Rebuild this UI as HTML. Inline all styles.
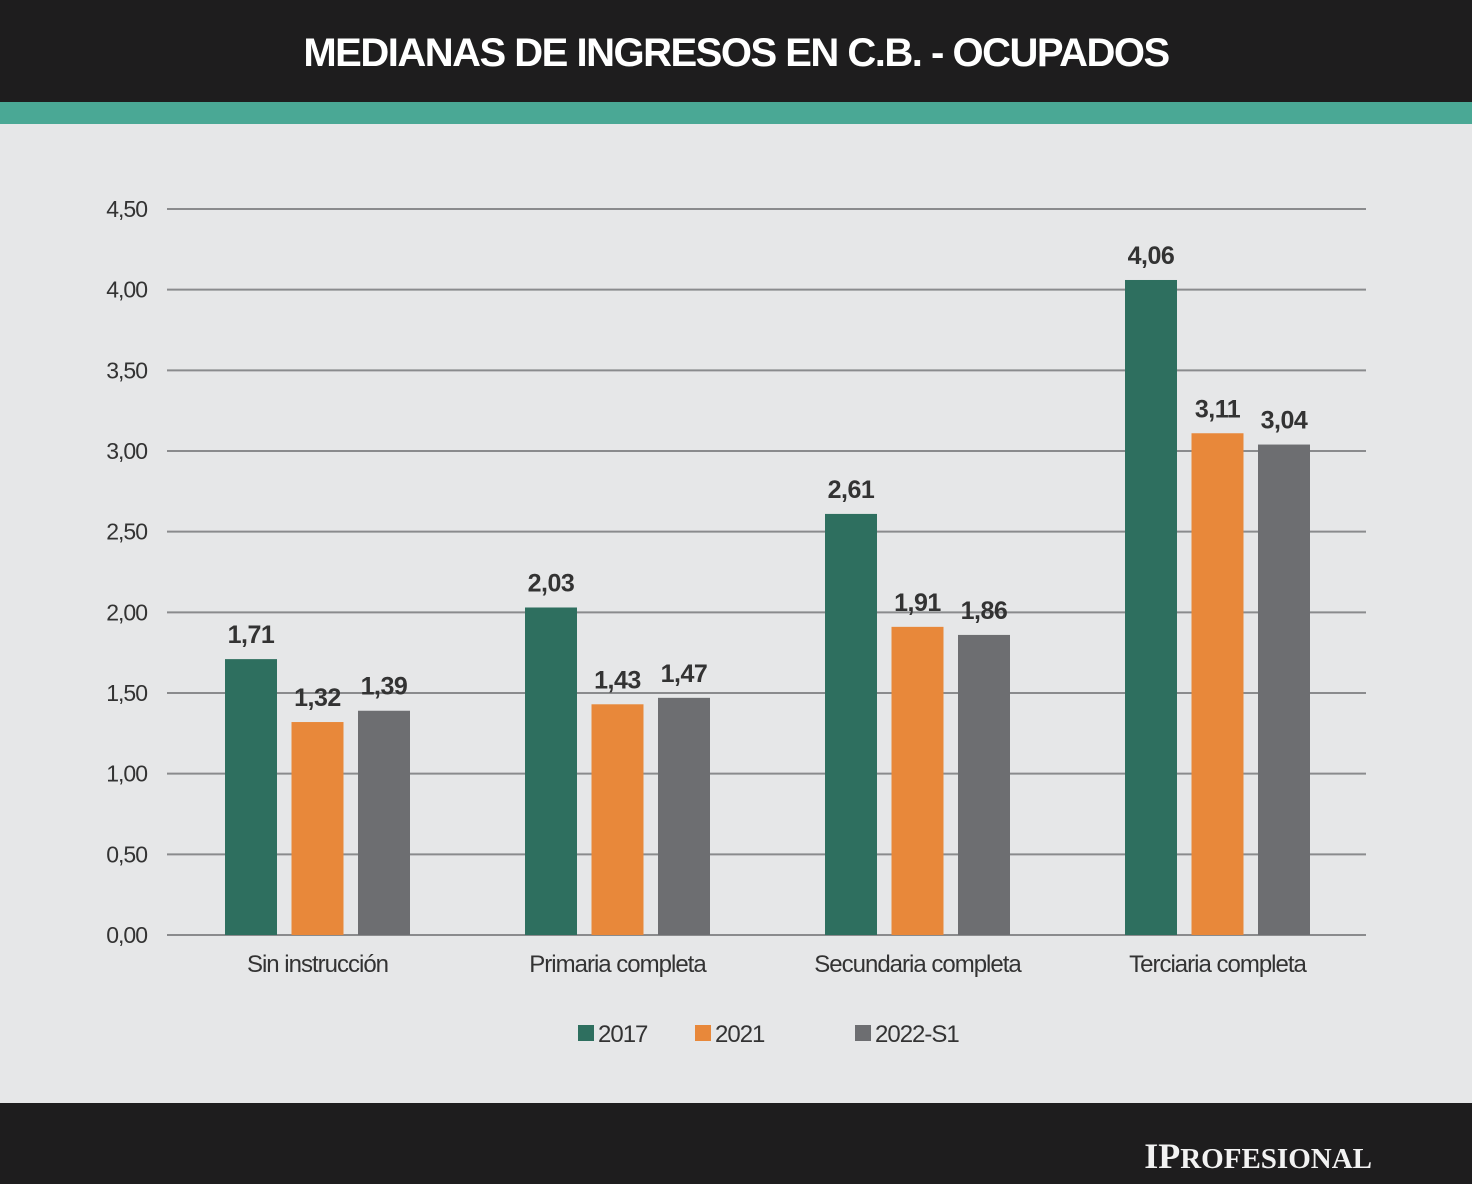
<!DOCTYPE html>
<html><head><meta charset="utf-8">
<style>
html,body{margin:0;padding:0;width:1472px;height:1184px;overflow:hidden;background:#e6e7e8;font-family:"Liberation Sans",sans-serif;}
</style></head>
<body>
<svg id="chart" width="1472" height="1184" xmlns="http://www.w3.org/2000/svg">
<rect x="0" y="0" width="1472" height="102" fill="#1e1d1e"/>
<text x="736" y="66" text-anchor="middle" fill="#ffffff" font-size="40" font-weight="bold" letter-spacing="-1.5">MEDIANAS DE INGRESOS EN C.B. - OCUPADOS</text>
<rect x="0" y="102" width="1472" height="22" fill="#4aa895"/>
<rect x="0" y="124" width="1472" height="979" fill="#e6e7e8"/>
<g id="grid"></g><g id="bars"></g><g id="labels"></g>
<g id="legend"></g>
<rect x="0" y="1103" width="1472" height="81" fill="#1e1d1e"/>
<text x="1372" y="1168" text-anchor="end" fill="#f2f2f2" font-family="Liberation Serif,serif" font-size="36" font-weight="bold">I<tspan font-size="36">P</tspan><tspan font-size="29">ROFESIONAL</tspan></text>
</svg>
<script>
const categories = ["Sin instrucción","Primaria completa","Secundaria completa","Terciaria completa"];
const seriesNames = ["2017","2021","2022-S1"];
const s2017 = [1.71,2.03,2.61,4.06];
const s2021 = [1.32,1.43,1.91,3.11];
const s2022 = [1.39,1.47,1.86,3.04];
const yTicks = [0,0.5,1,1.5,2,2.5,3,3.5,4,4.5];
const yTickLabels = ["0,00","0,50","1,00","1,50","2,00","2,50","3,00","3,50","4,00","4,50"];

const NS="http://www.w3.org/2000/svg";
const colors=["#2e6f5f","#e8883a","#6d6e71"];
const y0=935, pxPerUnit=(935-209)/4.5;
const yScale=v=>y0-v*pxPerUnit;
const groupStart=225, groupStep=300, barW=52, barStep=66.5;
const xBar=(ci,si)=>groupStart+ci*groupStep+si*barStep;
function mk(tag,attrs,parent){const e=document.createElementNS(NS,tag);for(const k in attrs)e.setAttribute(k,attrs[k]);parent.appendChild(e);return e;}
const grid=document.getElementById('grid'),bars=document.getElementById('bars'),labels=document.getElementById('labels'),legend=document.getElementById('legend');

yTicks.forEach((t,i)=>{
  const y=yScale(t);
  const l=mk('line',{x1:167,x2:1366,y1:y,y2:y,stroke:'#8a8b8d','stroke-width':2},grid);
  
  
  const tx=mk('text',{x:147,y:y+8,'text-anchor':'end','font-size':23,fill:'#333','letter-spacing':'-1'},grid);
  tx.textContent=yTickLabels[i];
  
  
});

const series=[s2017,s2021,s2022];
series.forEach((arr,si)=>{
  arr.forEach((v,ci)=>{
    const x=xBar(ci,si), y=yScale(v);
    const r=mk('rect',{x:x,y:y,width:barW,height:y0-y,fill:colors[si]},bars);
    
    
    const t=mk('text',{x:x+barW/2,y:y-16,'text-anchor':'middle','font-size':25,'font-weight':'bold',fill:'#333','letter-spacing':'-0.5'},labels);
    t.textContent=v.toFixed(2).replace('.',',');
    
    
  });
});

categories.forEach((c,ci)=>{
  const t=mk('text',{x:xBar(ci,0)+(2*barStep+barW)/2,y:972,'text-anchor':'middle','font-size':24,fill:'#333','letter-spacing':'-1'},labels);
  t.textContent=c;
  
  
});

const legX=[578,695,855];
seriesNames.forEach((n,i)=>{
  const r=mk('rect',{x:legX[i],y:1025,width:16,height:16,fill:colors[i]},legend);
  
  
  const t=mk('text',{x:legX[i]+20,y:1042,'font-size':24,fill:'#333','letter-spacing':'-1'},legend);
  t.textContent=n;
  
  
});
</script>
</body></html>
